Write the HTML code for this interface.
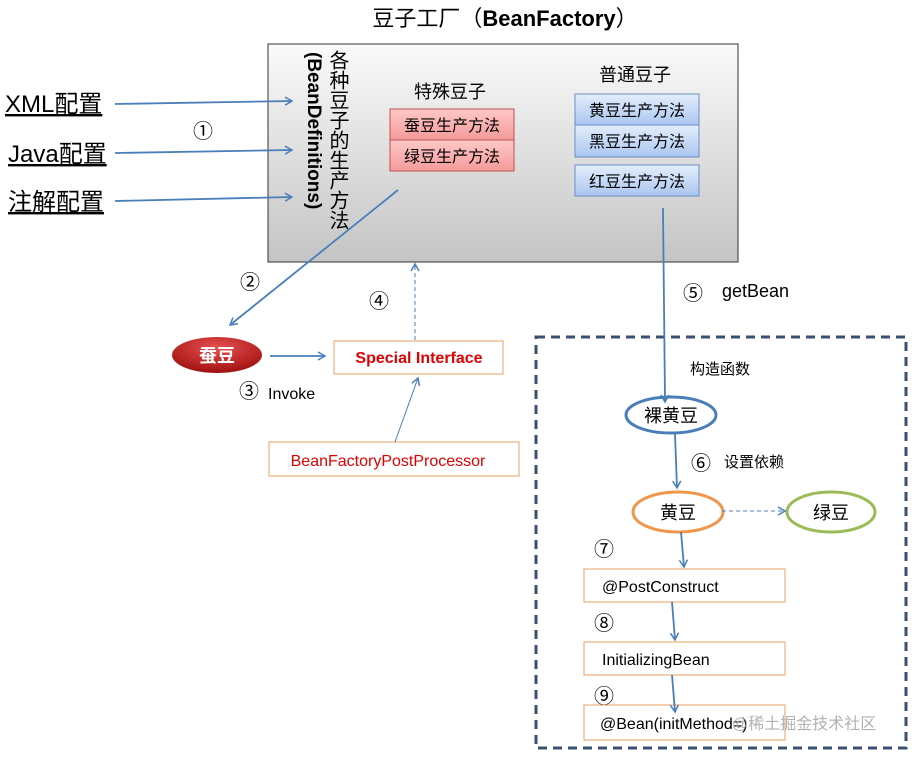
<!DOCTYPE html>
<html><head><meta charset="utf-8"><style>
html,body{margin:0;padding:0;background:#fff;}
svg text{font-family:"Liberation Sans","Noto Sans CJK SC",sans-serif;}
</style></head><body>
<svg width="914" height="755" viewBox="0 0 914 755" xmlns="http://www.w3.org/2000/svg">
<defs>
<linearGradient id="g" x1="0" y1="0" x2="0" y2="1"><stop offset="0" stop-color="#fafafa"/><stop offset="1" stop-color="#c4c4c4"/></linearGradient>
<linearGradient id="rg" x1="0" y1="0" x2="0" y2="1"><stop offset="0" stop-color="#ffc8c8"/><stop offset="1" stop-color="#f59a9a"/></linearGradient>
<linearGradient id="bg" x1="0" y1="0" x2="0" y2="1"><stop offset="0" stop-color="#e4eefc"/><stop offset="1" stop-color="#aac6f0"/></linearGradient>
<radialGradient id="eg" cx="0.5" cy="0.3" r="0.7"><stop offset="0" stop-color="#e85050"/><stop offset="1" stop-color="#a01010"/></radialGradient>
<marker id="a" markerWidth="10" markerHeight="10" refX="8" refY="5" orient="auto" markerUnits="userSpaceOnUse"><path d="M1,1 L8,5 L1,9" fill="none" stroke="#4a7ebb" stroke-width="1.5"/></marker>
</defs>
<text x="505" y="26" font-size="22" text-anchor="middle">豆子工厂（<tspan font-weight="bold">BeanFactory</tspan>）</text>
<rect x="268" y="44" width="470" height="218" fill="url(#g)" stroke="#333" stroke-width="1"/>
<text x="337" y="50" font-size="20" style="writing-mode:vertical-rl">各种豆子的生产方法</text>
<text transform="translate(308,52) rotate(90)" font-size="19" font-weight="bold">(BeanDefinitions)</text>
<g font-size="24">
<text x="5" y="112" text-decoration="underline">XML配置</text>
<text x="8" y="162" text-decoration="underline">Java配置</text>
<text x="8" y="210" text-decoration="underline">注解配置</text>
</g>
<g font-size="20"><text x="193" y="138">①</text><text x="240" y="289">②</text><text x="239" y="398">③</text><text x="369" y="308">④</text><text x="683" y="300">⑤</text><text x="691" y="470">⑥</text><text x="594" y="556">⑦</text><text x="594" y="630">⑧</text><text x="594" y="703">⑨</text></g>
<text x="450" y="98" font-size="18" text-anchor="middle">特殊豆子</text>
<rect x="390" y="109" width="124" height="31" fill="url(#rg)" stroke="#c05050"/>
<rect x="390" y="140" width="124" height="31" fill="url(#rg)" stroke="#c05050"/>
<text x="452" y="131" font-size="16" text-anchor="middle">蚕豆生产方法</text>
<text x="452" y="162" font-size="16" text-anchor="middle">绿豆生产方法</text>
<text x="635" y="81" font-size="18" text-anchor="middle">普通豆子</text>
<rect x="575" y="94" width="124" height="31" fill="url(#bg)" stroke="#6a8ec8"/>
<rect x="575" y="125" width="124" height="32" fill="url(#bg)" stroke="#6a8ec8"/>
<rect x="575" y="165" width="124" height="31" fill="url(#bg)" stroke="#6a8ec8"/>
<text x="637" y="116" font-size="16" text-anchor="middle">黄豆生产方法</text>
<text x="637" y="147" font-size="16" text-anchor="middle">黑豆生产方法</text>
<text x="637" y="187" font-size="16" text-anchor="middle">红豆生产方法</text>
<ellipse cx="217" cy="355" rx="45" ry="18" fill="url(#eg)"/>
<text x="217" y="362" font-size="18" font-weight="bold" fill="#fff" text-anchor="middle">蚕豆</text>
<rect x="334" y="341" width="169" height="33" fill="#fff" stroke="#e8a060"/>
<text x="419" y="363" font-size="16" font-weight="bold" fill="#e00000" text-anchor="middle">Special Interface</text>
<text x="268" y="399" font-size="16">Invoke</text>
<rect x="269" y="442" width="250" height="34" fill="#fff" stroke="#e8a060"/>
<text x="388" y="466" font-size="16" fill="#e00000" text-anchor="middle">BeanFactoryPostProcessor</text>
<text x="722" y="297" font-size="18">getBean</text>
<rect x="536" y="337" width="370" height="411" fill="none" stroke="#3a5070" stroke-width="3" stroke-dasharray="9,6"/>
<text x="690" y="374" font-size="15">构造函数</text>
<ellipse cx="671" cy="415" rx="45" ry="18" fill="#fff" stroke="#4a7ebb" stroke-width="3"/>
<text x="671" y="422" font-size="18" text-anchor="middle">裸黄豆</text>
<text x="724" y="467" font-size="15">设置依赖</text>
<ellipse cx="678" cy="512" rx="45" ry="20" fill="#fff" stroke="#f0964a" stroke-width="3"/>
<text x="678" y="519" font-size="18" text-anchor="middle">黄豆</text>
<ellipse cx="831" cy="512" rx="44" ry="20" fill="#fff" stroke="#9bbb59" stroke-width="3"/>
<text x="831" y="519" font-size="18" text-anchor="middle">绿豆</text>
<rect x="584" y="569" width="201" height="33" fill="#fff" stroke="#e8a060"/>
<text x="602" y="592" font-size="16">@PostConstruct</text>
<rect x="584" y="642" width="201" height="33" fill="#fff" stroke="#e8a060"/>
<text x="602" y="665" font-size="16">InitializingBean</text>
<rect x="584" y="705" width="201" height="35" fill="#fff" stroke="#e8a060"/>
<text x="600" y="729" font-size="16">@Bean(initMethod=)</text>
<g stroke="#4a7ebb" stroke-width="1.8" fill="none" marker-end="url(#a)">
<line x1="115" y1="104" x2="292" y2="101"/>
<line x1="115" y1="153" x2="292" y2="150"/>
<line x1="115" y1="201" x2="292" y2="197"/>
<line x1="398" y1="190" x2="230" y2="325"/>
<line x1="270" y1="356" x2="325" y2="356"/>
<line x1="663" y1="208" x2="665" y2="402"/>
<line x1="675" y1="434" x2="677" y2="488"/>
<line x1="681" y1="532" x2="684" y2="567"/>
<line x1="672" y1="602" x2="675" y2="640"/>
<line x1="672" y1="675" x2="675" y2="712"/>
</g>
<line x1="395" y1="442" x2="418" y2="378" stroke="#4a7ebb" stroke-width="1" marker-end="url(#a)"/>
<line x1="415" y1="340" x2="415" y2="264" stroke="#4a7ebb" stroke-width="1" stroke-dasharray="4,3" marker-end="url(#a)"/>
<line x1="722" y1="511" x2="785" y2="511" stroke="#4a7ebb" stroke-width="1" stroke-dasharray="4,3" marker-end="url(#a)"/>
<text x="732" y="729" font-size="16" fill="#aaa" opacity="0.9">@稀土掘金技术社区</text>
</svg>
</body></html>
